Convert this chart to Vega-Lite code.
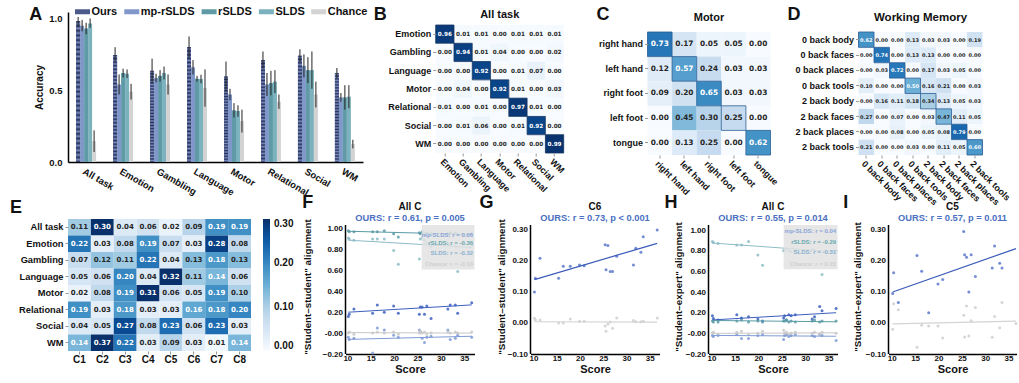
{
"$schema": "https://vega.github.io/schema/vega-lite/v6.json",
"background": "white",
"padding": {"left": 9, "top": 6, "right": 0, "bottom": 0},
"config": {
 "font": "Liberation Sans",
 "view": {"stroke": null},
 "axis": {"labelFont": "Liberation Sans", "titleFont": "Liberation Sans", "labelFontWeight": "bold", "titleFontWeight": "bold", "labelColor": "#111111", "titleColor": "#111111", "grid": false, "labelOverlap": false},
 "legend": {"labelFont": "Liberation Sans", "titleFont": "Liberation Sans", "labelFontWeight": "bold", "labelColor": "#111111"},
 "title": {"font": "Liberation Sans", "fontWeight": "bold", "color": "#111111", "subtitleFont": "Liberation Sans", "subtitleFontWeight": "bold"}
},
"datasets": {
 "A": [
{"task":"All task","model":"Ours","acc":0.98,"lo":0.945,"hi":1.01},
{"task":"All task","model":"mp-rSLDS","acc":0.95,"lo":0.91,"hi":0.99},
{"task":"All task","model":"rSLDS","acc":0.93,"lo":0.89,"hi":0.97},
{"task":"All task","model":"SLDS","acc":0.965,"lo":0.935,"hi":1.0},
{"task":"All task","model":"Chance","acc":0.145,"lo":0.07,"hi":0.22},
{"task":"Emotion","model":"Ours","acc":0.745,"lo":0.70,"hi":0.80},
{"task":"Emotion","model":"mp-rSLDS","acc":0.54,"lo":0.47,"hi":0.61},
{"task":"Emotion","model":"rSLDS","acc":0.62,"lo":0.59,"hi":0.65},
{"task":"Emotion","model":"SLDS","acc":0.615,"lo":0.585,"hi":0.645},
{"task":"Emotion","model":"Chance","acc":0.49,"lo":0.435,"hi":0.545},
{"task":"Gambling","model":"Ours","acc":0.635,"lo":0.55,"hi":0.72},
{"task":"Gambling","model":"mp-rSLDS","acc":0.585,"lo":0.555,"hi":0.615},
{"task":"Gambling","model":"rSLDS","acc":0.60,"lo":0.56,"hi":0.64},
{"task":"Gambling","model":"SLDS","acc":0.62,"lo":0.575,"hi":0.665},
{"task":"Gambling","model":"Chance","acc":0.54,"lo":0.47,"hi":0.61},
{"task":"Language","model":"Ours","acc":0.80,"lo":0.725,"hi":0.875},
{"task":"Language","model":"mp-rSLDS","acc":0.66,"lo":0.61,"hi":0.71},
{"task":"Language","model":"rSLDS","acc":0.58,"lo":0.56,"hi":0.60},
{"task":"Language","model":"SLDS","acc":0.578,"lo":0.548,"hi":0.608},
{"task":"Language","model":"Chance","acc":0.515,"lo":0.385,"hi":0.645},
{"task":"Motor","model":"Ours","acc":0.595,"lo":0.49,"hi":0.70},
{"task":"Motor","model":"mp-rSLDS","acc":0.47,"lo":0.43,"hi":0.51},
{"task":"Motor","model":"rSLDS","acc":0.36,"lo":0.31,"hi":0.41},
{"task":"Motor","model":"SLDS","acc":0.355,"lo":0.315,"hi":0.395},
{"task":"Motor","model":"Chance","acc":0.285,"lo":0.205,"hi":0.365},
{"task":"Relational","model":"Ours","acc":0.71,"lo":0.65,"hi":0.77},
{"task":"Relational","model":"mp-rSLDS","acc":0.54,"lo":0.46,"hi":0.62},
{"task":"Relational","model":"rSLDS","acc":0.55,"lo":0.465,"hi":0.635},
{"task":"Relational","model":"SLDS","acc":0.56,"lo":0.48,"hi":0.64},
{"task":"Relational","model":"Chance","acc":0.42,"lo":0.37,"hi":0.47},
{"task":"Social","model":"Ours","acc":0.74,"lo":0.695,"hi":0.785},
{"task":"Social","model":"mp-rSLDS","acc":0.67,"lo":0.59,"hi":0.75},
{"task":"Social","model":"rSLDS","acc":0.64,"lo":0.55,"hi":0.73},
{"task":"Social","model":"SLDS","acc":0.64,"lo":0.51,"hi":0.77},
{"task":"Social","model":"Chance","acc":0.47,"lo":0.38,"hi":0.56},
{"task":"WM","model":"Ours","acc":0.62,"lo":0.585,"hi":0.655},
{"task":"WM","model":"mp-rSLDS","acc":0.45,"lo":0.42,"hi":0.48},
{"task":"WM","model":"rSLDS","acc":0.45,"lo":0.365,"hi":0.535},
{"task":"WM","model":"SLDS","acc":0.455,"lo":0.375,"hi":0.535},
{"task":"WM","model":"Chance","acc":0.125,"lo":0.095,"hi":0.155}
 ],
 "B": [
{"r":"Emotion","c":"Emotion","v":0.96},{"r":"Emotion","c":"Gambling","v":0.01},{"r":"Emotion","c":"Language","v":0.01},{"r":"Emotion","c":"Motor","v":0.00},{"r":"Emotion","c":"Relational","v":0.01},{"r":"Emotion","c":"Social","v":0.01},{"r":"Emotion","c":"WM","v":0.01},
{"r":"Gambling","c":"Emotion","v":0.00},{"r":"Gambling","c":"Gambling","v":0.94},{"r":"Gambling","c":"Language","v":0.01},{"r":"Gambling","c":"Motor","v":0.04},{"r":"Gambling","c":"Relational","v":0.00},{"r":"Gambling","c":"Social","v":0.00},{"r":"Gambling","c":"WM","v":0.02},
{"r":"Language","c":"Emotion","v":0.00},{"r":"Language","c":"Gambling","v":0.00},{"r":"Language","c":"Language","v":0.92},{"r":"Language","c":"Motor","v":0.00},{"r":"Language","c":"Relational","v":0.01},{"r":"Language","c":"Social","v":0.07},{"r":"Language","c":"WM","v":0.00},
{"r":"Motor","c":"Emotion","v":0.00},{"r":"Motor","c":"Gambling","v":0.04},{"r":"Motor","c":"Language","v":0.00},{"r":"Motor","c":"Motor","v":0.92},{"r":"Motor","c":"Relational","v":0.01},{"r":"Motor","c":"Social","v":0.00},{"r":"Motor","c":"WM","v":0.03},
{"r":"Relational","c":"Emotion","v":0.01},{"r":"Relational","c":"Gambling","v":0.00},{"r":"Relational","c":"Language","v":0.01},{"r":"Relational","c":"Motor","v":0.00},{"r":"Relational","c":"Relational","v":0.97},{"r":"Relational","c":"Social","v":0.01},{"r":"Relational","c":"WM","v":0.00},
{"r":"Social","c":"Emotion","v":0.00},{"r":"Social","c":"Gambling","v":0.01},{"r":"Social","c":"Language","v":0.06},{"r":"Social","c":"Motor","v":0.00},{"r":"Social","c":"Relational","v":0.01},{"r":"Social","c":"Social","v":0.92},{"r":"Social","c":"WM","v":0.00},
{"r":"WM","c":"Emotion","v":0.00},{"r":"WM","c":"Gambling","v":0.00},{"r":"WM","c":"Language","v":0.00},{"r":"WM","c":"Motor","v":0.00},{"r":"WM","c":"Relational","v":0.00},{"r":"WM","c":"Social","v":0.00},{"r":"WM","c":"WM","v":0.99}
 ],
 "C": [
{"r":"right hand","c":"right hand","v":0.73},{"r":"right hand","c":"left hand","v":0.17},{"r":"right hand","c":"right foot","v":0.05},{"r":"right hand","c":"left foot","v":0.05},{"r":"right hand","c":"tongue","v":0.00},
{"r":"left hand","c":"right hand","v":0.12},{"r":"left hand","c":"left hand","v":0.57},{"r":"left hand","c":"right foot","v":0.24},{"r":"left hand","c":"left foot","v":0.03},{"r":"left hand","c":"tongue","v":0.03},
{"r":"right foot","c":"right hand","v":0.09},{"r":"right foot","c":"left hand","v":0.20},{"r":"right foot","c":"right foot","v":0.65},{"r":"right foot","c":"left foot","v":0.03},{"r":"right foot","c":"tongue","v":0.03},
{"r":"left foot","c":"right hand","v":0.00},{"r":"left foot","c":"left hand","v":0.45},{"r":"left foot","c":"right foot","v":0.30},{"r":"left foot","c":"left foot","v":0.25},{"r":"left foot","c":"tongue","v":0.00},
{"r":"tongue","c":"right hand","v":0.00},{"r":"tongue","c":"left hand","v":0.13},{"r":"tongue","c":"right foot","v":0.25},{"r":"tongue","c":"left foot","v":0.00},{"r":"tongue","c":"tongue","v":0.62}
 ],
 "D": [
{"r":"0 back body","c":"0 back body","v":0.62},{"r":"0 back body","c":"0 back faces","v":0.00},{"r":"0 back body","c":"0 back places","v":0.00},{"r":"0 back body","c":"0 back tools","v":0.13},{"r":"0 back body","c":"2 back body","v":0.03},{"r":"0 back body","c":"2 back faces","v":0.03},{"r":"0 back body","c":"2 back places","v":0.00},{"r":"0 back body","c":"2 back tools","v":0.19},
{"r":"0 back faces","c":"0 back body","v":0.00},{"r":"0 back faces","c":"0 back faces","v":0.74},{"r":"0 back faces","c":"0 back places","v":0.00},{"r":"0 back faces","c":"0 back tools","v":0.13},{"r":"0 back faces","c":"2 back body","v":0.13},{"r":"0 back faces","c":"2 back faces","v":0.00},{"r":"0 back faces","c":"2 back places","v":0.00},{"r":"0 back faces","c":"2 back tools","v":0.00},
{"r":"0 back places","c":"0 back body","v":0.00},{"r":"0 back places","c":"0 back faces","v":0.03},{"r":"0 back places","c":"0 back places","v":0.72},{"r":"0 back places","c":"0 back tools","v":0.00},{"r":"0 back places","c":"2 back body","v":0.17},{"r":"0 back places","c":"2 back faces","v":0.03},{"r":"0 back places","c":"2 back places","v":0.05},{"r":"0 back places","c":"2 back tools","v":0.00},
{"r":"0 back tools","c":"0 back body","v":0.10},{"r":"0 back tools","c":"0 back faces","v":0.00},{"r":"0 back tools","c":"0 back places","v":0.00},{"r":"0 back tools","c":"0 back tools","v":0.50},{"r":"0 back tools","c":"2 back body","v":0.16},{"r":"0 back tools","c":"2 back faces","v":0.21},{"r":"0 back tools","c":"2 back places","v":0.00},{"r":"0 back tools","c":"2 back tools","v":0.03},
{"r":"2 back body","c":"0 back body","v":0.00},{"r":"2 back body","c":"0 back faces","v":0.16},{"r":"2 back body","c":"0 back places","v":0.11},{"r":"2 back body","c":"0 back tools","v":0.18},{"r":"2 back body","c":"2 back body","v":0.34},{"r":"2 back body","c":"2 back faces","v":0.13},{"r":"2 back body","c":"2 back places","v":0.05},{"r":"2 back body","c":"2 back tools","v":0.03},
{"r":"2 back faces","c":"0 back body","v":0.27},{"r":"2 back faces","c":"0 back faces","v":0.00},{"r":"2 back faces","c":"0 back places","v":0.07},{"r":"2 back faces","c":"0 back tools","v":0.00},{"r":"2 back faces","c":"2 back body","v":0.03},{"r":"2 back faces","c":"2 back faces","v":0.47},{"r":"2 back faces","c":"2 back places","v":0.11},{"r":"2 back faces","c":"2 back tools","v":0.05},
{"r":"2 back places","c":"0 back body","v":0.00},{"r":"2 back places","c":"0 back faces","v":0.00},{"r":"2 back places","c":"0 back places","v":0.08},{"r":"2 back places","c":"0 back tools","v":0.00},{"r":"2 back places","c":"2 back body","v":0.05},{"r":"2 back places","c":"2 back faces","v":0.08},{"r":"2 back places","c":"2 back places","v":0.79},{"r":"2 back places","c":"2 back tools","v":0.00},
{"r":"2 back tools","c":"0 back body","v":0.21},{"r":"2 back tools","c":"0 back faces","v":0.00},{"r":"2 back tools","c":"0 back places","v":0.00},{"r":"2 back tools","c":"0 back tools","v":0.03},{"r":"2 back tools","c":"2 back body","v":0.00},{"r":"2 back tools","c":"2 back faces","v":0.11},{"r":"2 back tools","c":"2 back places","v":0.05},{"r":"2 back tools","c":"2 back tools","v":0.60}
 ],
 "E": [
{"r":"All task","c":"C1","v":0.11},{"r":"All task","c":"C2","v":0.30},{"r":"All task","c":"C3","v":0.04},{"r":"All task","c":"C4","v":0.06},{"r":"All task","c":"C5","v":0.02},{"r":"All task","c":"C6","v":0.09},{"r":"All task","c":"C7","v":0.19},{"r":"All task","c":"C8","v":0.19},
{"r":"Emotion","c":"C1","v":0.22},{"r":"Emotion","c":"C2","v":0.03},{"r":"Emotion","c":"C3","v":0.08},{"r":"Emotion","c":"C4","v":0.19},{"r":"Emotion","c":"C5","v":0.07},{"r":"Emotion","c":"C6","v":0.03},{"r":"Emotion","c":"C7","v":0.28},{"r":"Emotion","c":"C8","v":0.08},
{"r":"Gambling","c":"C1","v":0.07},{"r":"Gambling","c":"C2","v":0.12},{"r":"Gambling","c":"C3","v":0.11},{"r":"Gambling","c":"C4","v":0.22},{"r":"Gambling","c":"C5","v":0.04},{"r":"Gambling","c":"C6","v":0.13},{"r":"Gambling","c":"C7","v":0.18},{"r":"Gambling","c":"C8","v":0.13},
{"r":"Language","c":"C1","v":0.05},{"r":"Language","c":"C2","v":0.06},{"r":"Language","c":"C3","v":0.20},{"r":"Language","c":"C4","v":0.04},{"r":"Language","c":"C5","v":0.32},{"r":"Language","c":"C6","v":0.11},{"r":"Language","c":"C7","v":0.14},{"r":"Language","c":"C8","v":0.06},
{"r":"Motor","c":"C1","v":0.02},{"r":"Motor","c":"C2","v":0.08},{"r":"Motor","c":"C3","v":0.19},{"r":"Motor","c":"C4","v":0.31},{"r":"Motor","c":"C5","v":0.06},{"r":"Motor","c":"C6","v":0.05},{"r":"Motor","c":"C7","v":0.19},{"r":"Motor","c":"C8","v":0.10},
{"r":"Relational","c":"C1","v":0.19},{"r":"Relational","c":"C2","v":0.03},{"r":"Relational","c":"C3","v":0.18},{"r":"Relational","c":"C4","v":0.03},{"r":"Relational","c":"C5","v":0.03},{"r":"Relational","c":"C6","v":0.16},{"r":"Relational","c":"C7","v":0.18},{"r":"Relational","c":"C8","v":0.20},
{"r":"Social","c":"C1","v":0.04},{"r":"Social","c":"C2","v":0.05},{"r":"Social","c":"C3","v":0.27},{"r":"Social","c":"C4","v":0.08},{"r":"Social","c":"C5","v":0.23},{"r":"Social","c":"C6","v":0.06},{"r":"Social","c":"C7","v":0.23},{"r":"Social","c":"C8","v":0.03},
{"r":"WM","c":"C1","v":0.14},{"r":"WM","c":"C2","v":0.37},{"r":"WM","c":"C3","v":0.22},{"r":"WM","c":"C4","v":0.03},{"r":"WM","c":"C5","v":0.09},{"r":"WM","c":"C6","v":0.03},{"r":"WM","c":"C7","v":0.01},{"r":"WM","c":"C8","v":0.14}
 ],
 "F": [
{"s":10.2,"m":"Ours","v":0.16},{"s":10.4,"m":"Ours","v":0.18},{"s":11.4,"m":"Ours","v":0.23},{"s":15.4,"m":"Ours","v":0.19},{"s":16.4,"m":"Ours","v":0.27},{"s":17.9,"m":"Ours","v":0.20},{"s":19.9,"m":"Ours","v":0.26},{"s":20.9,"m":"Ours","v":0.19},{"s":25.4,"m":"Ours","v":0.18},{"s":25.6,"m":"Ours","v":0.25},{"s":26.0,"m":"Ours","v":0.25},{"s":26.5,"m":"Ours","v":0.18},{"s":27.0,"m":"Ours","v":0.26},{"s":27.9,"m":"Ours","v":0.14},{"s":31.5,"m":"Ours","v":0.23},{"s":32.0,"m":"Ours","v":0.27},{"s":33.1,"m":"Ours","v":0.27},{"s":33.6,"m":"Ours","v":0.19},{"s":36.6,"m":"Ours","v":0.29},
{"s":10.2,"m":"mp-rSLDS","v":-0.04},{"s":10.4,"m":"mp-rSLDS","v":-0.06},{"s":11.4,"m":"mp-rSLDS","v":-0.05},{"s":15.4,"m":"mp-rSLDS","v":-0.19},{"s":16.4,"m":"mp-rSLDS","v":0.05},{"s":17.9,"m":"mp-rSLDS","v":0.03},{"s":19.9,"m":"mp-rSLDS","v":-0.02},{"s":20.9,"m":"mp-rSLDS","v":-0.04},{"s":25.4,"m":"mp-rSLDS","v":0.03},{"s":25.6,"m":"mp-rSLDS","v":0.01},{"s":26.0,"m":"mp-rSLDS","v":-0.05},{"s":26.5,"m":"mp-rSLDS","v":-0.09},{"s":27.0,"m":"mp-rSLDS","v":-0.04},{"s":27.9,"m":"mp-rSLDS","v":-0.03},{"s":31.5,"m":"mp-rSLDS","v":0.03},{"s":32.0,"m":"mp-rSLDS","v":-0.06},{"s":33.1,"m":"mp-rSLDS","v":-0.05},{"s":33.6,"m":"mp-rSLDS","v":-0.02},{"s":36.6,"m":"mp-rSLDS","v":-0.04},
{"s":10.2,"m":"rSLDS","v":0.98},{"s":10.4,"m":"rSLDS","v":0.97},{"s":11.4,"m":"rSLDS","v":0.97},{"s":15.4,"m":"rSLDS","v":0.97},{"s":16.4,"m":"rSLDS","v":0.97},{"s":17.9,"m":"rSLDS","v":0.98},{"s":19.9,"m":"rSLDS","v":0.95},{"s":20.9,"m":"rSLDS","v":0.92},{"s":25.4,"m":"rSLDS","v":0.96},{"s":25.6,"m":"rSLDS","v":0.95},{"s":26.0,"m":"rSLDS","v":0.97},{"s":26.5,"m":"rSLDS","v":0.94},{"s":27.0,"m":"rSLDS","v":0.96},{"s":27.9,"m":"rSLDS","v":0.95},{"s":31.5,"m":"rSLDS","v":0.95},{"s":32.0,"m":"rSLDS","v":0.96},{"s":33.1,"m":"rSLDS","v":0.96},{"s":33.6,"m":"rSLDS","v":0.94},{"s":36.6,"m":"rSLDS","v":0.95},
{"s":10.2,"m":"SLDS","v":0.91},{"s":10.4,"m":"SLDS","v":0.90},{"s":11.4,"m":"SLDS","v":0.89},{"s":15.4,"m":"SLDS","v":0.90},{"s":16.4,"m":"SLDS","v":0.90},{"s":17.9,"m":"SLDS","v":0.90},{"s":19.9,"m":"SLDS","v":0.79},{"s":20.9,"m":"SLDS","v":0.66},{"s":25.4,"m":"SLDS","v":0.71},{"s":25.6,"m":"SLDS","v":0.90},{"s":26.0,"m":"SLDS","v":0.91},{"s":26.5,"m":"SLDS","v":0.89},{"s":27.0,"m":"SLDS","v":0.86},{"s":27.9,"m":"SLDS","v":0.83},{"s":31.5,"m":"SLDS","v":0.85},{"s":32.0,"m":"SLDS","v":0.84},{"s":33.1,"m":"SLDS","v":0.83},{"s":33.6,"m":"SLDS","v":0.59},{"s":36.6,"m":"SLDS","v":0.84},
{"s":10.2,"m":"Chance","v":0.00},{"s":10.4,"m":"Chance","v":0.01},{"s":11.4,"m":"Chance","v":-0.01},{"s":15.4,"m":"Chance","v":0.00},{"s":16.4,"m":"Chance","v":0.01},{"s":17.9,"m":"Chance","v":0.00},{"s":19.9,"m":"Chance","v":0.01},{"s":20.9,"m":"Chance","v":-0.01},{"s":25.4,"m":"Chance","v":0.00},{"s":25.6,"m":"Chance","v":0.02},{"s":26.0,"m":"Chance","v":0.00},{"s":26.5,"m":"Chance","v":0.01},{"s":27.0,"m":"Chance","v":-0.01},{"s":27.9,"m":"Chance","v":0.00},{"s":31.5,"m":"Chance","v":0.01},{"s":32.0,"m":"Chance","v":0.00},{"s":33.1,"m":"Chance","v":0.01},{"s":33.6,"m":"Chance","v":0.00},{"s":36.6,"m":"Chance","v":0.01}
 ],
 "Fl": [
{"m":"Ours","x1":10.2,"y1":0.20,"x2":36.6,"y2":0.27},
{"m":"mp-rSLDS","x1":10.2,"y1":-0.06,"x2":36.6,"y2":-0.03},
{"m":"rSLDS","x1":10.2,"y1":0.975,"x2":36.6,"y2":0.945},
{"m":"SLDS","x1":10.2,"y1":0.89,"x2":36.6,"y2":0.82},
{"m":"Chance","x1":10.2,"y1":0.005,"x2":36.6,"y2":0.0}
 ],
 "G": [
{"s":10.2,"m":"Ours","v":0.10},{"s":10.4,"m":"Ours","v":0.144},{"s":11.4,"m":"Ours","v":0.209},{"s":15.4,"m":"Ours","v":0.144},{"s":16.4,"m":"Ours","v":0.183},{"s":17.9,"m":"Ours","v":0.183},{"s":19.9,"m":"Ours","v":0.187},{"s":20.9,"m":"Ours","v":0.185},{"s":25.4,"m":"Ours","v":0.252},{"s":25.6,"m":"Ours","v":0.172},{"s":26.0,"m":"Ours","v":0.25},{"s":26.5,"m":"Ours","v":0.166},{"s":27.0,"m":"Ours","v":0.166},{"s":27.9,"m":"Ours","v":0.215},{"s":31.5,"m":"Ours","v":0.187},{"s":32.0,"m":"Ours","v":0.241},{"s":33.1,"m":"Ours","v":0.228},{"s":33.6,"m":"Ours","v":0.278},{"s":36.6,"m":"Ours","v":0.30},
{"s":10.2,"m":"Chance","v":0.015},{"s":10.4,"m":"Chance","v":0.01},{"s":11.4,"m":"Chance","v":0.01},{"s":15.4,"m":"Chance","v":0.0},{"s":16.4,"m":"Chance","v":0.0},{"s":17.9,"m":"Chance","v":0.013},{"s":19.9,"m":"Chance","v":0.006},{"s":20.9,"m":"Chance","v":0.006},{"s":25.4,"m":"Chance","v":-0.01},{"s":25.6,"m":"Chance","v":-0.027},{"s":26.0,"m":"Chance","v":-0.003},{"s":26.5,"m":"Chance","v":0.003},{"s":27.0,"m":"Chance","v":-0.017},{"s":27.9,"m":"Chance","v":0.016},{"s":31.5,"m":"Chance","v":0.008},{"s":32.0,"m":"Chance","v":0.004},{"s":33.1,"m":"Chance","v":0.004},{"s":33.6,"m":"Chance","v":0.006},{"s":36.6,"m":"Chance","v":0.016}
 ],
 "Gl": [
{"m":"Ours","x1":10.2,"y1":0.14,"x2":36.6,"y2":0.257},
{"m":"Chance","x1":10.2,"y1":0.004,"x2":36.6,"y2":0.003}
 ],
 "H": [
{"s":10.2,"m":"Ours","v":0.17},{"s":10.4,"m":"Ours","v":0.145},{"s":11.4,"m":"Ours","v":0.13},{"s":15.4,"m":"Ours","v":0.18},{"s":16.4,"m":"Ours","v":0.15},{"s":17.9,"m":"Ours","v":0.16},{"s":19.9,"m":"Ours","v":0.14},{"s":20.9,"m":"Ours","v":0.12},{"s":25.4,"m":"Ours","v":0.15},{"s":25.6,"m":"Ours","v":0.17},{"s":26.0,"m":"Ours","v":0.13},{"s":26.5,"m":"Ours","v":0.18},{"s":27.0,"m":"Ours","v":0.17},{"s":27.9,"m":"Ours","v":0.18},{"s":31.5,"m":"Ours","v":0.14},{"s":32.0,"m":"Ours","v":0.16},{"s":33.1,"m":"Ours","v":0.26},{"s":33.6,"m":"Ours","v":0.22},{"s":36.6,"m":"Ours","v":0.24},
{"s":10.2,"m":"mp-rSLDS","v":-0.02},{"s":10.4,"m":"mp-rSLDS","v":-0.03},{"s":11.4,"m":"mp-rSLDS","v":-0.02},{"s":15.4,"m":"mp-rSLDS","v":-0.01},{"s":16.4,"m":"mp-rSLDS","v":-0.05},{"s":17.9,"m":"mp-rSLDS","v":-0.05},{"s":19.9,"m":"mp-rSLDS","v":-0.02},{"s":20.9,"m":"mp-rSLDS","v":-0.01},{"s":25.4,"m":"mp-rSLDS","v":-0.06},{"s":25.6,"m":"mp-rSLDS","v":-0.02},{"s":26.0,"m":"mp-rSLDS","v":-0.01},{"s":26.5,"m":"mp-rSLDS","v":-0.03},{"s":27.0,"m":"mp-rSLDS","v":-0.02},{"s":27.9,"m":"mp-rSLDS","v":-0.01},{"s":31.5,"m":"mp-rSLDS","v":-0.02},{"s":32.0,"m":"mp-rSLDS","v":-0.03},{"s":33.1,"m":"mp-rSLDS","v":-0.01},{"s":33.6,"m":"mp-rSLDS","v":-0.02},{"s":36.6,"m":"mp-rSLDS","v":-0.07},
{"s":10.2,"m":"rSLDS","v":0.12},{"s":10.4,"m":"rSLDS","v":0.11},{"s":11.4,"m":"rSLDS","v":0.11},{"s":15.4,"m":"rSLDS","v":0.12},{"s":16.4,"m":"rSLDS","v":0.13},{"s":17.9,"m":"rSLDS","v":0.11},{"s":19.9,"m":"rSLDS","v":0.12},{"s":20.9,"m":"rSLDS","v":0.11},{"s":25.4,"m":"rSLDS","v":0.12},{"s":25.6,"m":"rSLDS","v":0.12},{"s":26.0,"m":"rSLDS","v":0.13},{"s":26.5,"m":"rSLDS","v":0.11},{"s":27.0,"m":"rSLDS","v":0.12},{"s":27.9,"m":"rSLDS","v":0.11},{"s":31.5,"m":"rSLDS","v":0.12},{"s":32.0,"m":"rSLDS","v":0.13},{"s":33.1,"m":"rSLDS","v":0.11},{"s":33.6,"m":"rSLDS","v":0.12},{"s":36.6,"m":"rSLDS","v":0.12},
{"s":10.2,"m":"SLDS","v":0.89},{"s":10.4,"m":"SLDS","v":0.88},{"s":11.4,"m":"SLDS","v":0.87},{"s":15.4,"m":"SLDS","v":0.855},{"s":16.4,"m":"SLDS","v":0.855},{"s":17.9,"m":"SLDS","v":0.89},{"s":19.9,"m":"SLDS","v":0.76},{"s":20.9,"m":"SLDS","v":0.66},{"s":25.4,"m":"SLDS","v":0.80},{"s":25.6,"m":"SLDS","v":0.81},{"s":26.0,"m":"SLDS","v":0.82},{"s":26.5,"m":"SLDS","v":0.80},{"s":27.0,"m":"SLDS","v":0.79},{"s":27.9,"m":"SLDS","v":0.80},{"s":31.5,"m":"SLDS","v":0.81},{"s":32.0,"m":"SLDS","v":0.80},{"s":33.1,"m":"SLDS","v":0.79},{"s":33.6,"m":"SLDS","v":0.57},{"s":36.6,"m":"SLDS","v":0.80},
{"s":10.2,"m":"Chance","v":0.00},{"s":10.4,"m":"Chance","v":0.01},{"s":11.4,"m":"Chance","v":-0.01},{"s":15.4,"m":"Chance","v":0.01},{"s":16.4,"m":"Chance","v":0.02},{"s":17.9,"m":"Chance","v":-0.01},{"s":19.9,"m":"Chance","v":0.00},{"s":20.9,"m":"Chance","v":0.02},{"s":25.4,"m":"Chance","v":0.03},{"s":25.6,"m":"Chance","v":0.00},{"s":26.0,"m":"Chance","v":0.01},{"s":26.5,"m":"Chance","v":-0.01},{"s":27.0,"m":"Chance","v":0.00},{"s":27.9,"m":"Chance","v":0.01},{"s":31.5,"m":"Chance","v":0.00},{"s":32.0,"m":"Chance","v":0.01},{"s":33.1,"m":"Chance","v":-0.01},{"s":33.6,"m":"Chance","v":0.01},{"s":36.6,"m":"Chance","v":0.00}
 ],
 "Hl": [
{"m":"Ours","x1":10.2,"y1":0.13,"x2":36.6,"y2":0.20},
{"m":"mp-rSLDS","x1":10.2,"y1":-0.02,"x2":36.6,"y2":-0.028},
{"m":"rSLDS","x1":10.2,"y1":0.125,"x2":36.6,"y2":0.112},
{"m":"SLDS","x1":10.2,"y1":0.875,"x2":36.6,"y2":0.79},
{"m":"Chance","x1":10.2,"y1":0.0,"x2":36.6,"y2":0.005}
 ],
 "I": [
{"s":10.2,"m":"Ours","v":0.095},{"s":10.4,"m":"Ours","v":0.162},{"s":11.4,"m":"Ours","v":0.066},{"s":15.4,"m":"Ours","v":0.218},{"s":16.4,"m":"Ours","v":0.167},{"s":17.9,"m":"Ours","v":0.033},{"s":19.9,"m":"Ours","v":0.126},{"s":20.9,"m":"Ours","v":0.14},{"s":25.4,"m":"Ours","v":0.295},{"s":25.6,"m":"Ours","v":0.22},{"s":26.0,"m":"Ours","v":0.212},{"s":26.5,"m":"Ours","v":0.1},{"s":27.0,"m":"Ours","v":0.22},{"s":27.9,"m":"Ours","v":0.15},{"s":31.5,"m":"Ours","v":0.177},{"s":32.0,"m":"Ours","v":0.248},{"s":33.1,"m":"Ours","v":0.193},{"s":33.6,"m":"Ours","v":0.177},
{"s":10.2,"m":"Chance","v":-0.02},{"s":10.4,"m":"Chance","v":0.062},{"s":11.4,"m":"Chance","v":0.043},{"s":15.4,"m":"Chance","v":-0.078},{"s":16.4,"m":"Chance","v":-0.007},{"s":17.9,"m":"Chance","v":-0.01},{"s":19.9,"m":"Chance","v":-0.01},{"s":20.9,"m":"Chance","v":-0.048},{"s":25.4,"m":"Chance","v":0.025},{"s":25.6,"m":"Chance","v":-0.045},{"s":26.0,"m":"Chance","v":0.055},{"s":26.5,"m":"Chance","v":-0.042},{"s":27.0,"m":"Chance","v":0.007},{"s":27.9,"m":"Chance","v":0.05},{"s":31.5,"m":"Chance","v":-0.046},{"s":32.0,"m":"Chance","v":0.021},{"s":33.1,"m":"Chance","v":-0.015},{"s":33.6,"m":"Chance","v":0.066},{"s":36.6,"m":"Chance","v":-0.002}
 ],
 "Il": [
{"m":"Ours","x1":10.2,"y1":0.10,"x2":36.6,"y2":0.24},
{"m":"Chance","x1":10.2,"y1":-0.003,"x2":36.6,"y2":0.006}
 ]
},
"spacing": -13,
"resolve": {"scale": {"color": "independent", "x": "independent", "y": "independent"}, "legend": {"color": "independent"}},
"vconcat": [
{
 "spacing": 7.5,
 "resolve": {"scale": {"color": "independent", "x": "independent", "y": "independent"}, "legend": {"color": "independent"}},
 "concat": [
 {
  "spacing": 30.5,
  "resolve": {"scale": {"color": "independent", "x": "independent", "y": "independent"}, "legend": {"color": "independent"}},
  "concat": [
  {
   "spacing": 4.7,
   "resolve": {"scale": {"color": "independent", "x": "independent", "y": "independent"}, "legend": {"color": "independent"}},
   "concat": [
   {
    "width": 295, "height": 150,
    "title": {"text": "A", "anchor": "start", "frame": "bounds", "fontSize": 18, "offset": -18, "dx": -5.5},
    "data": {"name": "A"},
    "layer": [
     {"mark": {"type": "bar"},
      "encoding": {
       "x": {"field": "task", "type": "nominal", "sort": ["All task","Emotion","Gambling","Language","Motor","Relational","Social","WM"], "title": null, "scale": {"paddingInner": 0.46, "paddingOuter": 0.22}, "axis": {"labelAngle": 30, "labelFontSize": 9.5, "ticks": false, "labelPadding": 4, "domainColor": "#000000", "domainWidth": 1.5}},
       "xOffset": {"field": "model", "type": "nominal", "sort": ["Ours","mp-rSLDS","rSLDS","SLDS","Chance"], "scale": {"domain": ["Ours","mp-rSLDS","rSLDS","SLDS","Chance"], "paddingInner": 0, "paddingOuter": 0}},
       "y": {"field": "acc", "type": "quantitative", "title": "Accuracy", "scale": {"domain": [0, 1.045], "nice": false}, "axis": {"values": [0, 0.5, 1], "tickCount": 20, "format": ".1f", "ticks": false, "labelFontSize": 9.5, "titleFontSize": 10, "domainColor": "#000000", "domainWidth": 1.5, "titlePadding": 4, "labelPadding": 6}},
       "color": {"field": "model", "type": "nominal", "scale": {"domain": ["Ours","mp-rSLDS","rSLDS","SLDS","Chance"], "range": ["#4b5a8a","#8098c9","#5f9aa6","#7cb2bd","#d3d3d3"]}, "legend": {"orient": "none", "legendX": 9, "legendY": -6, "direction": "horizontal", "title": null, "symbolType": "M-1.5,-0.5H1.5V0.5H-1.5Z", "symbolSize": 100, "symbolStrokeWidth": 0, "labelFontSize": 11, "labelOffset": 3.5, "columnPadding": 6.3, "padding": 0}}
      }},
     {"transform": [{"filter": "datum.model == 'Ours'"}],
      "mark": {"type": "bar", "fill": {"gradient": "linear", "x1": 0, "y1": 0, "x2": 0, "y2": 1, "stops": [{"offset":0,"color":"#27335c"},{"offset":0.0167,"color":"#7b8abd"},{"offset":0.0333,"color":"#27335c"},{"offset":0.05,"color":"#7b8abd"},{"offset":0.0667,"color":"#27335c"},{"offset":0.0833,"color":"#7b8abd"},{"offset":0.1,"color":"#27335c"},{"offset":0.1167,"color":"#7b8abd"},{"offset":0.1333,"color":"#27335c"},{"offset":0.15,"color":"#7b8abd"},{"offset":0.1667,"color":"#27335c"},{"offset":0.1833,"color":"#7b8abd"},{"offset":0.2,"color":"#27335c"},{"offset":0.2167,"color":"#7b8abd"},{"offset":0.2333,"color":"#27335c"},{"offset":0.25,"color":"#7b8abd"},{"offset":0.2667,"color":"#27335c"},{"offset":0.2833,"color":"#7b8abd"},{"offset":0.3,"color":"#27335c"},{"offset":0.3167,"color":"#7b8abd"},{"offset":0.3333,"color":"#27335c"},{"offset":0.35,"color":"#7b8abd"},{"offset":0.3667,"color":"#27335c"},{"offset":0.3833,"color":"#7b8abd"},{"offset":0.4,"color":"#27335c"},{"offset":0.4167,"color":"#7b8abd"},{"offset":0.4333,"color":"#27335c"},{"offset":0.45,"color":"#7b8abd"},{"offset":0.4667,"color":"#27335c"},{"offset":0.4833,"color":"#7b8abd"},{"offset":0.5,"color":"#27335c"},{"offset":0.5167,"color":"#7b8abd"},{"offset":0.5333,"color":"#27335c"},{"offset":0.55,"color":"#7b8abd"},{"offset":0.5667,"color":"#27335c"},{"offset":0.5833,"color":"#7b8abd"},{"offset":0.6,"color":"#27335c"},{"offset":0.6167,"color":"#7b8abd"},{"offset":0.6333,"color":"#27335c"},{"offset":0.65,"color":"#7b8abd"},{"offset":0.6667,"color":"#27335c"},{"offset":0.6833,"color":"#7b8abd"},{"offset":0.7,"color":"#27335c"},{"offset":0.7167,"color":"#7b8abd"},{"offset":0.7333,"color":"#27335c"},{"offset":0.75,"color":"#7b8abd"},{"offset":0.7667,"color":"#27335c"},{"offset":0.7833,"color":"#7b8abd"},{"offset":0.8,"color":"#27335c"},{"offset":0.8167,"color":"#7b8abd"},{"offset":0.8333,"color":"#27335c"},{"offset":0.85,"color":"#7b8abd"},{"offset":0.8667,"color":"#27335c"},{"offset":0.8833,"color":"#7b8abd"},{"offset":0.9,"color":"#27335c"},{"offset":0.9167,"color":"#7b8abd"},{"offset":0.9333,"color":"#27335c"},{"offset":0.95,"color":"#7b8abd"},{"offset":0.9667,"color":"#27335c"},{"offset":0.9833,"color":"#7b8abd"},{"offset":1,"color":"#27335c"}]}},
      "encoding": {
       "x": {"field": "task", "type": "nominal", "sort": ["All task","Emotion","Gambling","Language","Motor","Relational","Social","WM"], "title": null},
       "xOffset": {"field": "model", "type": "nominal", "sort": ["Ours","mp-rSLDS","rSLDS","SLDS","Chance"]},
       "y": {"field": "acc", "type": "quantitative", "title": "Accuracy"}
      }},
     {"mark": {"type": "rule", "color": "#222222", "strokeWidth": 1},
      "encoding": {
       "x": {"field": "task", "type": "nominal", "sort": ["All task","Emotion","Gambling","Language","Motor","Relational","Social","WM"], "title": null},
       "xOffset": {"field": "model", "type": "nominal", "sort": ["Ours","mp-rSLDS","rSLDS","SLDS","Chance"]},
       "y": {"field": "lo", "type": "quantitative", "title": "Accuracy"},
       "y2": {"field": "hi"}
      }}
    ]
   },
   {
    "title": {"text": "B", "anchor": "start", "frame": "bounds", "fontSize": 18, "offset": -15.4, "dx": -14},
    "vconcat": [{
     "width": 128, "height": 141,
     "title": {"text": "All task", "fontSize": 11, "offset": -7.6},
     "data": {"name": "B"},
     "encoding": {
      "x": {"field": "c", "type": "nominal", "sort": ["Emotion","Gambling","Language","Motor","Relational","Social","WM"], "title": null, "axis": {"labelAngle": 45, "labelFontSize": 9, "domain": false, "tickSize": 3, "tickColor": "#999999", "labelPadding": 1}},
      "y": {"field": "r", "type": "nominal", "sort": ["Emotion","Gambling","Language","Motor","Relational","Social","WM"], "title": null, "scale": {"paddingInner": 0, "paddingOuter": 0.3555, "align": 1}, "axis": {"labelFontSize": 9, "domain": false, "tickSize": 3, "tickColor": "#999999", "labelPadding": 2}}
     },
     "layer": [
      {"mark": {"type": "rect"}, "encoding": {"color": {"field": "v", "type": "quantitative", "scale": {"domain": [0,0.125,0.25,0.375,0.5,0.625,0.75,0.875,1], "range": ["#f7fbff","#deebf7","#c6dbef","#9ecae1","#6baed6","#4292c6","#2171b5","#08519c","#08306b"]}, "legend": null}}},
      {"transform": [{"filter": "datum.r == datum.c"}], "mark": {"type": "rect", "filled": false, "stroke": "#15355f", "strokeWidth": 0.8}},
      {"mark": {"type": "text", "font": "DejaVu Sans", "fontWeight": "bold", "fontSize": 5.7}, "encoding": {"text": {"field": "v", "type": "quantitative", "format": ".2f"}, "color": {"condition": {"test": "datum.v > 0.47", "value": "#ffffff"}, "value": "#262626"}}}
     ]
    }]
   }
   ]
  },
  {
   "title": {"text": "C", "anchor": "start", "frame": "bounds", "fontSize": 18, "offset": -12, "dx": -2},
   "vconcat": [{
    "width": 123, "height": 143,
    "title": {"text": "Motor", "fontSize": 11, "offset": -11},
    "data": {"name": "C"},
    "encoding": {
     "x": {"field": "c", "type": "nominal", "sort": ["right hand","left hand","right foot","left foot","tongue"], "title": null, "axis": {"labelAngle": 45, "labelFontSize": 9, "domain": false, "tickSize": 3, "tickColor": "#999999", "labelPadding": 1}},
     "y": {"field": "r", "type": "nominal", "sort": ["right hand","left hand","right foot","left foot","tongue"], "title": null, "scale": {"paddingInner": 0, "paddingOuter": 0.4065, "align": 1}, "axis": {"labelFontSize": 9, "domain": false, "tickSize": 3, "tickColor": "#999999", "labelPadding": 2}}
    },
    "layer": [
     {"mark": {"type": "rect"}, "encoding": {"color": {"field": "v", "type": "quantitative", "scale": {"domain": [0,0.125,0.25,0.375,0.5,0.625,0.75,0.875,1], "range": ["#f7fbff","#deebf7","#c6dbef","#9ecae1","#6baed6","#4292c6","#2171b5","#08519c","#08306b"]}, "legend": null}}},
     {"transform": [{"filter": "datum.r == datum.c"}], "mark": {"type": "rect", "filled": false, "stroke": "#2a5d94", "strokeWidth": 0.8}},
     {"mark": {"type": "text", "font": "DejaVu Sans", "fontWeight": "bold", "fontSize": 7.4}, "encoding": {"text": {"field": "v", "type": "quantitative", "format": ".2f"}, "color": {"condition": {"test": "datum.v > 0.47", "value": "#ffffff"}, "value": "#262626"}}}
    ]
   }]
  }
  ]
 },
 {
  "title": {"text": "D", "anchor": "start", "frame": "bounds", "fontSize": 18, "offset": -12.5, "dx": -7.5},
  "vconcat": [{
   "width": 124, "height": 143,
   "title": {"text": "Working Memory", "fontSize": 11.5, "offset": -11},
   "data": {"name": "D"},
   "encoding": {
    "x": {"field": "c", "type": "nominal", "sort": ["0 back body","0 back faces","0 back places","0 back tools","2 back body","2 back faces","2 back places","2 back tools"], "title": null, "axis": {"labelAngle": 45, "labelFontSize": 9, "domain": false, "tickSize": 3, "tickColor": "#999999", "labelPadding": 1}},
    "y": {"field": "r", "type": "nominal", "sort": ["0 back body","0 back faces","0 back places","0 back tools","2 back body","2 back faces","2 back places","2 back tools"], "title": null, "scale": {"paddingInner": 0, "paddingOuter": 0.6504, "align": 1}, "axis": {"labelFontSize": 9, "domain": false, "tickSize": 3, "tickColor": "#999999", "labelPadding": 2}}
   },
   "layer": [
    {"mark": {"type": "rect"}, "encoding": {"color": {"field": "v", "type": "quantitative", "scale": {"domain": [0,0.125,0.25,0.375,0.5,0.625,0.75,0.875,1], "range": ["#f7fbff","#deebf7","#c6dbef","#9ecae1","#6baed6","#4292c6","#2171b5","#08519c","#08306b"]}, "legend": null}}},
    {"transform": [{"filter": "datum.r == datum.c"}], "mark": {"type": "rect", "filled": false, "stroke": "#2a5d94", "strokeWidth": 0.8}},
    {"mark": {"type": "text", "font": "DejaVu Sans", "fontWeight": "bold", "fontSize": 5}, "encoding": {"text": {"field": "v", "type": "quantitative", "format": ".2f"}, "color": {"condition": {"test": "datum.v > 0.47", "value": "#ffffff"}, "value": "#262626"}}}
   ]
  }]
 }
 ]
},
{
 "spacing": 7.5,
 "resolve": {"scale": {"color": "independent", "x": "independent", "y": "independent"}, "legend": {"color": "independent"}},
 "concat": [
 {
  "width": 183, "height": 132,
  "title": {"text": "E", "anchor": "start", "frame": "bounds", "fontSize": 18, "offset": 1.6, "dx": -8.6},
  "data": {"name": "E"},
  "encoding": {
   "x": {"field": "c", "type": "nominal", "sort": ["C1","C2","C3","C4","C5","C6","C7","C8"], "title": null, "axis": {"labelAngle": 0, "labelFontSize": 10, "domain": false, "tickSize": 3, "tickColor": "#999999", "labelPadding": 0}},
   "y": {"field": "r", "type": "nominal", "sort": ["All task","Emotion","Gambling","Language","Motor","Relational","Social","WM"], "title": null, "axis": {"labelFontSize": 9.3, "domain": false, "tickSize": 3, "tickColor": "#999999", "labelPadding": 2}}
  },
  "layer": [
   {"mark": {"type": "rect"}, "encoding": {"color": {"field": "v", "type": "quantitative", "scale": {"domain": [0,0.0375,0.075,0.1125,0.15,0.1875,0.225,0.2625,0.3], "range": ["#f7fbff","#deebf7","#c6dbef","#9ecae1","#6baed6","#4292c6","#2171b5","#08519c","#08306b"], "clamp": true}, "legend": {"title": null, "orient": "right", "offset": 12, "gradientLength": 132, "gradientThickness": 7, "values": [0, 0.1, 0.2, 0.3], "tickCount": 20, "format": ".2f", "labelFontSize": 10, "labelOffset": 4, "labelBaseline": "middle", "labelOverlap": false, "gradientStrokeWidth": 0}}}},
   {"mark": {"type": "text", "font": "DejaVu Sans", "fontWeight": "bold", "fontSize": 7}, "encoding": {"text": {"field": "v", "type": "quantitative", "format": ".2f"}, "color": {"condition": {"test": "datum.v >= 0.14", "value": "#ffffff"}, "value": "#262626"}}}
  ]
 },
 {
 "spacing": 4,
 "resolve": {"scale": {"color": "independent", "x": "independent", "y": "independent"}, "legend": {"color": "independent"}},
 "concat": [
 {
  "title": {"text": "F", "anchor": "start", "frame": "bounds", "fontSize": 18, "offset": -10.6, "dx": 0},
  "vconcat": [{
   "width": 129, "height": 135,
   "title": {"text": "All C", "subtitle": "OURS: r = 0.61, p = 0.005", "fontSize": 10, "subtitleFontSize": 9.3, "subtitleColor": "#4a70c2", "subtitlePadding": 2.6, "offset": -4.7},
   "layer": [
    {"data": {"name": "F"}, "mark": {"type": "circle", "size": 9, "opacity": 0.85},
     "encoding": {
      "x": {"field": "s", "type": "quantitative", "title": "Score", "scale": {"domain": [9.6, 37.2], "nice": false, "zero": false}, "axis": {"values": [10,15,20,25,30,35], "tickCount": 20, "labelFontSize": 8, "titleFontSize": 11, "ticks": false, "domainColor": "#000000", "domainWidth": 1.5, "labelPadding": 0.5, "titlePadding": 1}},
      "y": {"field": "v", "type": "quantitative", "title": "\"Student–student\" alignment", "scale": {"domain": [-0.2, 1.0924], "nice": false, "zero": false}, "axis": {"values": [-0.2, 0, 0.2, 0.4, 0.6, 0.8, 1], "tickCount": 20, "labelExpr": "datum.value == 0 ? '-0.00' : format(datum.value, '.2f')", "labelFontSize": 8, "titleFontSize": 9.8, "ticks": false, "domain": false, "labelPadding": 3, "titlePadding": 10}},
      "color": {"field": "m", "type": "nominal", "scale": {"domain": ["Ours","mp-rSLDS","rSLDS","SLDS","Chance"], "range": ["#3d5fc0","#7e9ad6","#5b9ba6","#8dbcc6","#c8c8c8"]}, "legend": null}}},
    {"data": {"name": "Fl"}, "mark": {"type": "rule", "strokeWidth": 1},
     "encoding": {"x": {"field": "x1", "type": "quantitative", "title": "Score"}, "x2": {"field": "x2"}, "y": {"field": "y1", "type": "quantitative", "title": "\"Student–student\" alignment"}, "y2": {"field": "y2"}, "color": {"field": "m", "type": "nominal", "legend": null}}},
    {"data": {"values": [{}]}, "mark": {"type": "rect", "color": "#e2e2e2", "opacity": 0.85}, "encoding": {"x": {"datum": 25.9}, "x2": {"datum": 37.2}, "y": {"datum": 0.61}, "y2": {"datum": 1.035}}},
    {"data": {"values": [{}]}, "mark": {"type": "rule", "color": "#000000", "strokeWidth": 1.5}, "encoding": {"x": {"datum": 9.6}, "y": {"datum": -0.2}, "y2": {"datum": 1.035}}},
    {"data": {"values": [{}]}, "mark": {"type": "text", "text": "mp-SLDS: r =  0.06", "align": "right", "fontSize": 6, "fontWeight": "bold", "color": "#8aa4d8"}, "encoding": {"x": {"datum": 36.9}, "y": {"datum": 0.936}}},
    {"data": {"values": [{}]}, "mark": {"type": "text", "text": "rSLDS: r = -0.36", "align": "right", "fontSize": 6, "fontWeight": "bold", "color": "#6aa7b0"}, "encoding": {"x": {"datum": 36.9}, "y": {"datum": 0.866}}},
    {"data": {"values": [{}]}, "mark": {"type": "text", "text": "SLDS: r = -0.32", "align": "right", "fontSize": 6, "fontWeight": "bold", "color": "#8ab0d0"}, "encoding": {"x": {"datum": 36.9}, "y": {"datum": 0.77}}},
    {"data": {"values": [{}]}, "mark": {"type": "text", "text": "Chance: r = -0.10", "align": "right", "fontSize": 6, "fontWeight": "bold", "color": "#cfcfcf"}, "encoding": {"x": {"datum": 36.9}, "y": {"datum": 0.658}}}
   ]
  }]
 },
 {
  "title": {"text": "G", "anchor": "start", "frame": "bounds", "fontSize": 18, "offset": -10.6, "dx": -16.8},
  "vconcat": [{
   "width": 129, "height": 135,
   "title": {"text": "C6", "subtitle": "OURS: r = 0.73, p < 0.001", "fontSize": 10, "subtitleFontSize": 9.3, "subtitleColor": "#4a70c2", "subtitlePadding": 2.6, "offset": -4.7},
   "layer": [
    {"data": {"name": "G"}, "mark": {"type": "circle", "size": 9, "opacity": 0.85},
     "encoding": {
      "x": {"field": "s", "type": "quantitative", "title": "Score", "scale": {"domain": [9.35, 37.1], "nice": false, "zero": false}, "axis": {"values": [10,15,20,25,30,35], "tickCount": 20, "labelFontSize": 8, "titleFontSize": 11, "ticks": false, "domainColor": "#000000", "domainWidth": 1.5, "labelPadding": 0.5, "titlePadding": 1}},
      "y": {"field": "v", "type": "quantitative", "title": "\"Student–student\" alignment", "scale": {"domain": [-0.1, 0.3354], "nice": false, "zero": false}, "axis": {"values": [-0.1, 0, 0.1, 0.2, 0.3], "tickCount": 20, "format": ".2f", "labelFontSize": 8, "titleFontSize": 9.8, "ticks": false, "domain": false, "labelPadding": 3, "titlePadding": 1}},
      "color": {"field": "m", "type": "nominal", "scale": {"domain": ["Ours","Chance"], "range": ["#5a78cc","#cfcfcf"]}, "legend": null}}},
    {"data": {"name": "Gl"}, "mark": {"type": "rule", "strokeWidth": 1.2},
     "encoding": {"x": {"field": "x1", "type": "quantitative", "title": "Score"}, "x2": {"field": "x2"}, "y": {"field": "y1", "type": "quantitative", "title": "\"Student–student\" alignment"}, "y2": {"field": "y2"}, "color": {"field": "m", "type": "nominal", "scale": {"domain": ["Ours","Chance"], "range": ["#3a5bb8","#d4d4d4"]}, "legend": null}}},
    {"data": {"values": [{}]}, "mark": {"type": "rule", "color": "#000000", "strokeWidth": 1.5}, "encoding": {"x": {"datum": 9.35}, "y": {"datum": -0.1}, "y2": {"datum": 0.316}}}
   ],
   "resolve": {"scale": {"color": "independent"}}
  }]
 },
 {
  "title": {"text": "H", "anchor": "start", "frame": "bounds", "fontSize": 18, "offset": -10.6, "dx": -8.8},
  "vconcat": [{
   "width": 129, "height": 135,
   "title": {"text": "All C", "subtitle": "OURS: r = 0.55, p = 0.014", "fontSize": 10, "subtitleFontSize": 9.3, "subtitleColor": "#4a70c2", "subtitlePadding": 2.6, "offset": -4.7},
   "layer": [
    {"data": {"name": "H"}, "mark": {"type": "circle", "size": 9, "opacity": 0.85},
     "encoding": {
      "x": {"field": "s", "type": "quantitative", "title": "Score", "scale": {"domain": [9.36, 36.9], "nice": false, "zero": false}, "axis": {"values": [10,15,20,25,30,35], "tickCount": 20, "labelFontSize": 8, "titleFontSize": 11, "ticks": false, "domainColor": "#000000", "domainWidth": 1.5, "labelPadding": 0.5, "titlePadding": 1}},
      "y": {"field": "v", "type": "quantitative", "title": "\"Student–expert\" alignment", "scale": {"domain": [-0.2, 1.1081], "nice": false, "zero": false}, "axis": {"values": [-0.2, 0, 0.2, 0.4, 0.6, 0.8, 1], "tickCount": 20, "labelExpr": "datum.value == 0 ? '-0.00' : format(datum.value, '.2f')", "labelFontSize": 8, "titleFontSize": 9.8, "ticks": false, "domain": false, "labelPadding": 3, "titlePadding": 2}},
      "color": {"field": "m", "type": "nominal", "scale": {"domain": ["Ours","mp-rSLDS","rSLDS","SLDS","Chance"], "range": ["#3d5fc0","#7e9ad6","#5b9ba6","#8dbcc6","#c8c8c8"]}, "legend": null}}},
    {"data": {"name": "Hl"}, "mark": {"type": "rule", "strokeWidth": 1},
     "encoding": {"x": {"field": "x1", "type": "quantitative", "title": "Score"}, "x2": {"field": "x2"}, "y": {"field": "y1", "type": "quantitative", "title": "\"Student–expert\" alignment"}, "y2": {"field": "y2"}, "color": {"field": "m", "type": "nominal", "legend": null}}},
    {"data": {"values": [{}]}, "mark": {"type": "rect", "color": "#e2e2e2", "opacity": 0.85}, "encoding": {"x": {"datum": 25.4}, "x2": {"datum": 36.9}, "y": {"datum": 0.62}, "y2": {"datum": 1.05}}},
    {"data": {"values": [{}]}, "mark": {"type": "rule", "color": "#000000", "strokeWidth": 1.5}, "encoding": {"x": {"datum": 9.36}, "y": {"datum": -0.2}, "y2": {"datum": 1.05}}},
    {"data": {"values": [{}]}, "mark": {"type": "text", "text": "mp-SLDS: r = 0.04", "align": "right", "fontSize": 6, "fontWeight": "bold", "color": "#8aa4d8"}, "encoding": {"x": {"datum": 36.6}, "y": {"datum": 0.99}}},
    {"data": {"values": [{}]}, "mark": {"type": "text", "text": "rSLDS: r = -0.29", "align": "right", "fontSize": 6, "fontWeight": "bold", "color": "#6aa7b0"}, "encoding": {"x": {"datum": 36.6}, "y": {"datum": 0.887}}},
    {"data": {"values": [{}]}, "mark": {"type": "text", "text": "SLDS: r = -0.31", "align": "right", "fontSize": 6, "fontWeight": "bold", "color": "#8ab0d0"}, "encoding": {"x": {"datum": 36.6}, "y": {"datum": 0.784}}},
    {"data": {"values": [{}]}, "mark": {"type": "text", "text": "Chance: r = 0.22", "align": "right", "fontSize": 6, "fontWeight": "bold", "color": "#cfcfcf"}, "encoding": {"x": {"datum": 36.6}, "y": {"datum": 0.671}}}
   ]
  }]
 },
 {
  "title": {"text": "I", "anchor": "start", "frame": "bounds", "fontSize": 18, "offset": -10.6, "dx": -9},
  "vconcat": [{
   "width": 128, "height": 135,
   "title": {"text": "C5", "subtitle": "OURS: r = 0.57, p = 0.011", "fontSize": 10, "subtitleFontSize": 9.3, "subtitleColor": "#4a70c2", "subtitlePadding": 2.6, "offset": -4.7},
   "layer": [
    {"data": {"name": "I"}, "mark": {"type": "circle", "size": 9, "opacity": 0.85},
     "encoding": {
      "x": {"field": "s", "type": "quantitative", "title": "Score", "scale": {"domain": [9.3, 36.7], "nice": false, "zero": false}, "axis": {"values": [10,15,20,25,30,35], "tickCount": 20, "labelFontSize": 8, "titleFontSize": 11, "ticks": false, "domainColor": "#000000", "domainWidth": 1.5, "labelPadding": 0.5, "titlePadding": 1}},
      "y": {"field": "v", "type": "quantitative", "title": "\"Student–expert\" alignment", "scale": {"domain": [-0.1, 0.3354], "nice": false, "zero": false}, "axis": {"values": [-0.1, 0, 0.1, 0.2, 0.3], "tickCount": 20, "format": ".2f", "labelFontSize": 8, "titleFontSize": 9.8, "ticks": false, "domain": false, "labelPadding": 3, "titlePadding": 3}},
      "color": {"field": "m", "type": "nominal", "scale": {"domain": ["Ours","Chance"], "range": ["#5a78cc","#cfcfcf"]}, "legend": null}}},
    {"data": {"name": "Il"}, "mark": {"type": "rule", "strokeWidth": 1.2},
     "encoding": {"x": {"field": "x1", "type": "quantitative", "title": "Score"}, "x2": {"field": "x2"}, "y": {"field": "y1", "type": "quantitative", "title": "\"Student–expert\" alignment"}, "y2": {"field": "y2"}, "color": {"field": "m", "type": "nominal", "scale": {"domain": ["Ours","Chance"], "range": ["#3a5bb8","#d4d4d4"]}, "legend": null}}},
    {"data": {"values": [{}]}, "mark": {"type": "rule", "color": "#000000", "strokeWidth": 1.5}, "encoding": {"x": {"datum": 9.3}, "y": {"datum": -0.1}, "y2": {"datum": 0.316}}}
   ],
   "resolve": {"scale": {"color": "independent"}}
  }]
 }
 ]
 }
 ]
}
]
}
